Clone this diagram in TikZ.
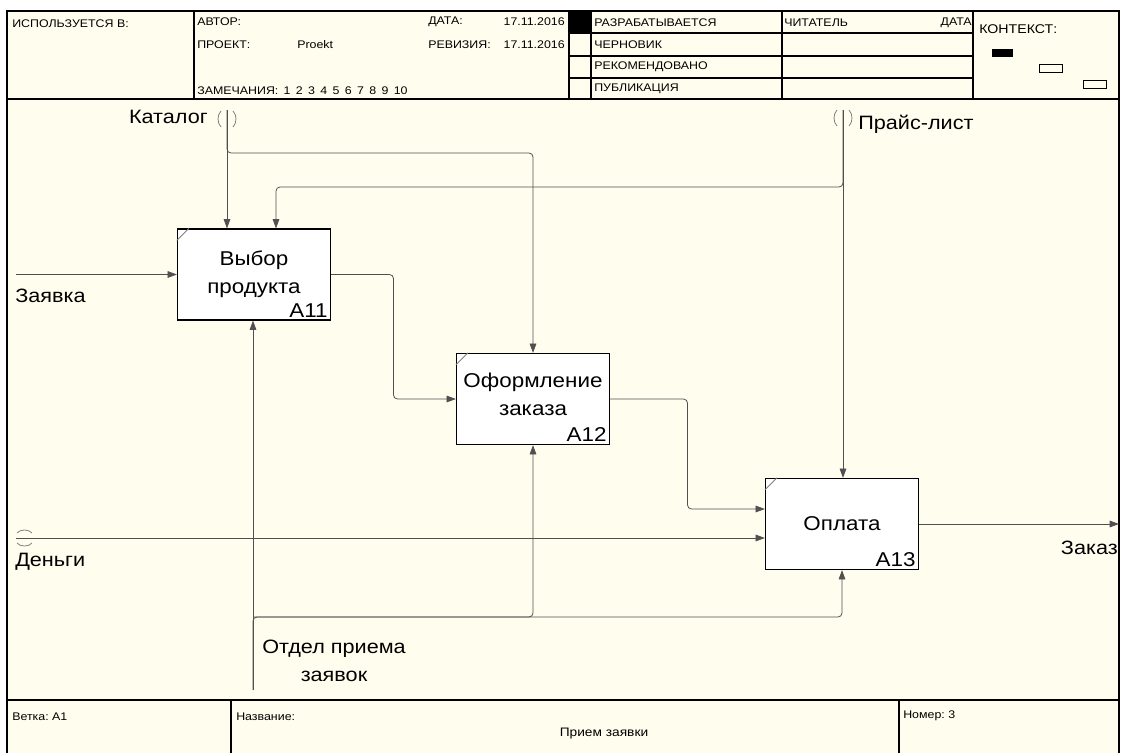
\documentclass[tikz,border=0pt]{standalone}
\usepackage{fontspec}
\setmainfont[FakeStretch=1.12]{Liberation Sans}
\usetikzlibrary{arrows.meta,calc}
\definecolor{paper}{RGB}{255,254,238}
\definecolor{wire}{RGB}{80,80,80}
\def\gap{\hspace{4pt}}
\tikzset{
  >={Triangle[length=7pt,width=5pt]},
  arr/.style={wire,line width=0.6pt,rounded corners=3pt},
  func/.style={draw,line width=0.9pt,fill=white,minimum width=114.75pt,minimum height=68.25pt,align=center,inner sep=0pt,font=\fontsize{15}{21}\selectfont},
  num/.style={anchor=south east,inner sep=2.5pt,font=\fontsize{15}{18}\selectfont},
  lbl/.style={inner sep=0pt,font=\fontsize{14.5}{21}\selectfont},
  hdr/.style={anchor=west,inner sep=0pt,font=\fontsize{8.3}{10}\selectfont},
  tun/.style={gray,line width=0.6pt},
  grid/.style={line width=0.9pt},
}
\begin{document}
\begin{tikzpicture}[x=0.75pt,y=-0.75pt]
  \clip (0,0) rectangle (1121,753);
  \useasboundingbox (0,0) rectangle (1121,753);
  \fill[white] (0,0) rectangle (1121,753);
%frame
  \fill[paper] (7,11) rectangle (1119,760);
  \draw[line width=1.1pt] (7,11) rectangle (1119,760);
%header
  \draw[grid] (7,99) -- (1119,99);
  \draw[grid] (194,11) -- (194,99);
  \draw[grid] (569,11) -- (569,99);
  \draw[grid] (591,11) -- (591,99);
  \draw[grid] (782,11) -- (782,99);
  \draw[grid] (973,11) -- (973,99);
  \foreach \y in {33,56,78}
    \draw[grid] (569,\y) -- (973,\y);
  \fill (569,11) rectangle (591,33);
  \node[hdr] (used) at (12,24) {ИСПОЛЬЗУЕТСЯ В:};
  \node[hdr] (author) at (197,22) {АВТОР:};
  \node[hdr] (project) at (197,45) {ПРОЕКТ:};
  \node[hdr] (pname) at (297,45) {Proekt};
  \node[hdr] (notes) at (197,91) {ЗАМЕЧАНИЯ:\gap 1\gap 2\gap 3\gap 4\gap 5\gap 6\gap 7\gap 8\gap 9\gap 10};
  \node[hdr] (date) at (428,22) {ДАТА:};
  \node[hdr,anchor=east] (dateval) at (565,22) {17.11.2016};
  \node[hdr] (rev) at (428,45) {РЕВИЗИЯ:};
  \node[hdr,anchor=east] (revval) at (565,45) {17.11.2016};
  \node[hdr] (st1) at (594,23) {РАЗРАБАТЫВАЕТСЯ};
  \node[hdr] (st2) at (594,45) {ЧЕРНОВИК};
  \node[hdr] (st3) at (594,67) {РЕКОМЕНДОВАНО};
  \node[hdr] (st4) at (594,89) {ПУБЛИКАЦИЯ};
  \node[hdr] (reader) at (784,23) {ЧИТАТЕЛЬ};
  \node[hdr,anchor=east] (rdate) at (972,23) {ДАТА};
  \node[hdr,font=\fontsize{9.5}{12}\selectfont] (context) at (979,29) {КОНТЕКСТ:};
  \fill (992,49) rectangle (1013,57);
  \draw[line width=0.7pt] (1039,64) rectangle (1062,72);
  \draw[line width=0.7pt] (1083,80) rectangle (1106,88);
%footer
  \draw[line width=1.1pt] (7,700) -- (1119,700);
  \draw[grid] (231,700) -- (231,760);
  \draw[grid] (899,700) -- (899,760);
  \node[hdr] (branch) at (12,717) {Ветка:\ A1};
  \node[hdr] (title) at (236,717) {Название:};
  \node[hdr,anchor=center,font=\fontsize{9.2}{11}\selectfont] (tname) at (604,734) {Прием заявки};
  \node[hdr] (number) at (903,716) {Номер:\ 3};
%functions
  \node[func] (a11) at (254,274.5) {Выбор\\продукта};
  \node[num] (n11) at (a11.south east) {A11};
  \node[func] (a12) at (533,399) {Оформление\\заказа\\[-13.5pt]};
  \node[num] (n12) at (a12.south east) {A12};
  \node[func] (a13) at (842,524) {Оплата};
  \node[num] (n13) at (a13.south east) {A13};
  \foreach \b in {a11,a12,a13}
    \draw[gray,line width=0.7pt] (\b.north west) ++(0,12) -- ++(12,-12);
%boundary ends
  \coordinate (katalog) at (227,110);
  \coordinate (prais) at (843,110);
  \coordinate (zayavka) at (16,274.5);
  \coordinate (dengi) at (16,538);
  \coordinate (zakaz) at (1119,524);
  \coordinate (otdel) at (253,690);
  \coordinate (kbend) at (533,153);
  \coordinate (pbend) at (276,187);
  \coordinate (obend) at (253,617);
%arrows
  \draw[arr,->] (katalog) -- (katalog |- a11.north);
  \draw[arr,->] (katalog) |- (kbend) -- (a12.north);
  \draw[arr,->] (prais) -- (prais |- a13.north);
  \draw[arr,->] (prais) |- (pbend) -- (pbend |- a11.north);
  \draw[arr,->] (zayavka) -- (a11.west);
  \draw[arr,->] (a11.east) -| ($(a11.east)!.5!(a12.west)$) |- (a12.west);
  \draw[arr,->] (a12.east) -| ($(a12.east)!.5!([yshift=11.25pt]a13.west)$) |- ([yshift=11.25pt]a13.west);
  \draw[arr,->] (dengi) -- (a13.west |- dengi);
  \draw[arr,->] (a13.east) -- (zakaz);
  \draw[arr,->] (otdel) -- (otdel |- a11.south);
  \draw[arr,->] (otdel) -- (obend) -| (a12.south);
  \draw[arr,->] (obend) -| (a13.south);
%tunnels
  \draw[tun] (221,111) .. controls (217,115) and (217,123) .. (221,127);
  \draw[tun] (233,111) .. controls (237,115) and (237,123) .. (233,127);
  \draw[tun] (837,110) .. controls (833,114) and (833,122) .. (837,126);
  \draw[tun] (849,110) .. controls (853,114) and (853,122) .. (849,126);
  \draw[tun] (17,533) .. controls (20,529) and (29,529) .. (32,533);
  \draw[tun] (17,543) .. controls (20,547) and (29,547) .. (32,543);
%labels
  \node[lbl,anchor=east] (lkat) at (208,117) {Каталог};
  \node[lbl,anchor=west] (lpr) at (858,124) {Прайс-лист};
  \node[lbl,anchor=west] (lzay) at (15,296) {Заявка};
  \node[lbl,anchor=west] (lden) at (15,562) {Деньги};
  \node[lbl,anchor=east] (lzak) at (1118,548) {Заказ};
  \node[lbl,align=center] (lotd) at (334,661) {Отдел приема\\заявок};
\end{tikzpicture}
\end{document}
